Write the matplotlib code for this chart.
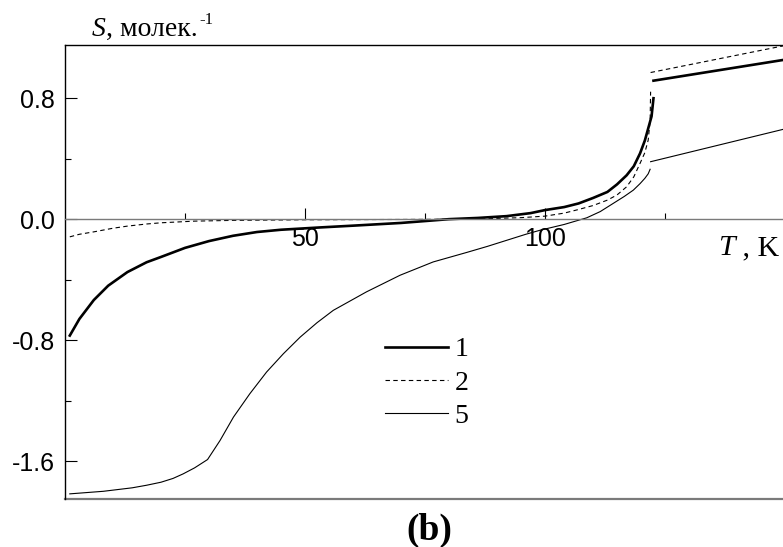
import matplotlib
matplotlib.use("Agg")
import matplotlib.pyplot as plt
from matplotlib.lines import Line2D
from matplotlib.ticker import MultipleLocator, FixedLocator

# Кривая 1 (жирная): до и после скачка
T1_lo = [1.0, 3, 6, 9, 13, 17, 20, 25, 30, 35, 40, 45, 53, 60, 70, 80, 86, 92,
         97, 100, 104, 107, 110, 113, 115, 117, 118.5, 119.8, 120.8, 121.5,
         122.2, 122.6]
S1_lo = [-0.77, -0.66, -0.535, -0.44, -0.35, -0.285, -0.25, -0.19, -0.145,
         -0.11, -0.085, -0.07, -0.055, -0.043, -0.025, 0.0, 0.008, 0.02, 0.04,
         0.06, 0.08, 0.104, 0.14, 0.18, 0.23, 0.29, 0.35, 0.435, 0.52, 0.6,
         0.68, 0.80]
T1_hi = [122.6, 149.6]
S1_hi = [0.916, 1.053]

# Кривая 2 (пунктир)
T2_lo = [1.0, 3, 6, 10, 13, 17, 20, 27, 35, 50, 70, 85, 95, 100, 104, 107,
         110, 113, 115, 117, 118.5, 119.8, 120.8, 121.5, 121.9, 122.0]
S2_lo = [-0.117, -0.10, -0.084, -0.06, -0.046, -0.032, -0.024, -0.013, -0.008,
         -0.004, -0.002, 0.0, 0.01, 0.02, 0.04, 0.064, 0.09, 0.126, 0.16,
         0.214, 0.28, 0.369, 0.44, 0.523, 0.65, 0.843]
T2_hi = [122.0, 149.6]
S2_hi = [0.97, 1.146]

# Кривая 5 (тонкая)
T5_lo = [1.0, 8, 14, 17, 20, 22.5, 24.6, 27, 29.7, 32.3, 35.1, 38.5, 42, 45.5,
         49, 52.5, 55.9, 62.8, 69.8, 76.7, 83.7, 88, 92, 96, 99, 104, 108.7,
         111.5, 114.2, 116.5, 118.4, 119.8, 120.8, 121.5, 121.9]
S5_lo = [-1.817, -1.80, -1.777, -1.76, -1.74, -1.715, -1.685, -1.645, -1.59,
         -1.464, -1.309, -1.155, -1.011, -0.89, -0.78, -0.685, -0.603, -0.481,
         -0.371, -0.283, -0.22, -0.18, -0.14, -0.10, -0.073, -0.035, 0.009,
         0.05, 0.104, 0.15, 0.192, 0.235, 0.27, 0.30, 0.33]
T5_hi = [122.0, 149.6]
S5_hi = [0.38, 0.594]

labels = ['1', '2', '5']

SERIF = 'Liberation Serif'
SANS = 'Liberation Sans'

fig = plt.figure(figsize=(7.83, 5.47), dpi=100)
ax = fig.add_axes([65 / 783, 48 / 547, 720 / 783, 454 / 547])

ax.plot(T1_lo, S1_lo, color='black', lw=1.9, label=labels[0])
ax.plot(T1_hi, S1_hi, color='black', lw=1.9)
ax.plot(T2_lo, S2_lo, color='black', lw=0.8, ls=(0, (4, 3)), label=labels[1])
ax.plot(T2_hi, S2_hi, color='black', lw=0.8, ls=(0, (4, 3)))
ax.plot(T5_lo, S5_lo, color='black', lw=0.8, label=labels[2])
ax.plot(T5_hi, S5_hi, color='black', lw=0.8)

ax.set_xlim(0, 150)
ax.set_ylim(-1.851, 1.152)

# рамка: ось T проходит через ноль
ax.spines['right'].set_visible(False)
ax.spines['left'].set_linewidth(1.0)
ax.spines['top'].set_linewidth(1.0)
ax.spines['bottom'].set_position(('data', 0))
ax.spines['bottom'].set_color('#7a7a7a')
ax.spines['bottom'].set_linewidth(1.0)
ax.add_line(Line2D([0, 1], [0, 0], transform=ax.transAxes, color='#7a7a7a',
                   lw=1.6, clip_on=False))

ax.xaxis.set_major_locator(FixedLocator([50, 100]))
ax.xaxis.set_minor_locator(FixedLocator([25, 75, 125]))
ax.yaxis.set_major_locator(MultipleLocator(0.8))
ax.yaxis.set_minor_locator(MultipleLocator(0.4))
ax.tick_params(which='both', direction='in', color='black')
ax.tick_params(axis='x', which='major', length=8, width=0.8, pad=6)
ax.tick_params(axis='x', which='minor', length=4.5, width=0.8)
ax.tick_params(axis='y', which='major', length=8.5, width=0.8, pad=7)
ax.tick_params(axis='y', which='minor', length=4.5, width=0.8)
ax.set_xticklabels(['50', '100'])
ax.set_yticklabels([f'{v:.1f}' for v in ax.get_yticks()])
for lab in ax.get_xticklabels() + ax.get_yticklabels():
    lab.set_fontfamily(SANS)
    lab.set_fontsize(18)

leg = ax.legend(loc='upper left', bbox_to_anchor=(0.444, 0.357), frameon=False,
                prop={'family': SERIF, 'size': 20}, handlelength=2.27,
                handletextpad=0.25, labelspacing=0.28, borderaxespad=0,
                borderpad=0)

# подпись оси S
s = fig.text(92 / 783, 1 - 36 / 547, 'S', fontfamily=SERIF, style='italic',
             fontsize=20, va='baseline')
m = ax.annotate(', молек.', xy=(1, 0), xycoords=s, va='bottom',
                fontfamily=SERIF, fontsize=20)
ax.annotate('-1', xy=(1, 1), xycoords=m, xytext=(1, -8),
            textcoords='offset points', va='bottom', fontfamily=SERIF,
            fontsize=12)

# подпись оси T
t = fig.text(718 / 783, 1 - 255 / 547, 'T', fontfamily=SERIF, style='italic',
             fontsize=21.5, va='baseline')
ax.annotate(' , K', xy=(1, 0), xycoords=t, va='bottom', fontfamily=SERIF,
            fontsize=21.5)

fig.text(429 / 783, 1 - 540 / 547, '(b)', fontfamily=SERIF,
         fontweight='bold', fontsize=27, ha='center', va='baseline')

fig.savefig('out.png', dpi=100, facecolor='white')
